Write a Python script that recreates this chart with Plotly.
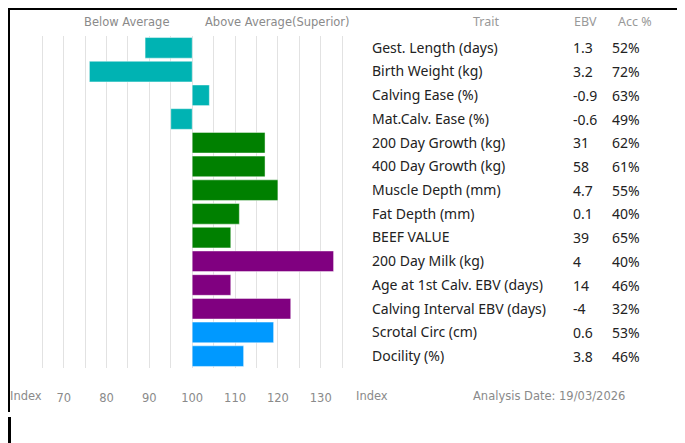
import plotly.graph_objects as go

traits = ["Gest. Length (days)", "Birth Weight (kg)", "Calving Ease (%)", "Mat.Calv. Ease (%)",
          "200 Day Growth (kg)", "400 Day Growth (kg)", "Muscle Depth (mm)", "Fat Depth (mm)",
          "BEEF VALUE", "200 Day Milk (kg)", "Age at 1st Calv. EBV (days)",
          "Calving Interval EBV (days)", "Scrotal Circ (cm)", "Docility (%)"]
index_values = [89, 76, 104, 95, 117, 117, 120, 111, 109, 133, 109, 123, 119, 112]
ebv = ["1.3", "3.2", "-0.9", "-0.6", "31", "58", "4.7", "0.1", "39", "4", "14", "-4", "0.6", "3.8"]
acc = ["52%", "72%", "63%", "49%", "62%", "61%", "55%", "40%", "65%", "40%", "46%", "32%", "53%", "46%"]
groups = ["calving"] * 4 + ["growth"] * 5 + ["maternal"] * 3 + ["other"] * 2
group_colors = {"calving": "#00b3b3", "growth": "#008000", "maternal": "#800080", "other": "#0099ff"}
grid_vals = list(range(60, 141, 5))
tick_labels = [str(v) if (70 <= v <= 130 and v % 10 == 0) else "" for v in grid_vals]
analysis_date = "19/03/2026"

W, H = 685, 443
OFF = 8  # page body margin
L, R, T, B = 20 - OFF, 364 - OFF, 36 - OFF, 368 - OFF
PW, PH = R - L, B - T
def px(x):
    return (x - OFF - L) / PW
def py(y):
    return (B - (y - OFF)) / PH

fig = go.Figure()
fig.add_trace(go.Bar(
    y=traits,
    x=[v - 100 for v in index_values],
    base=100,
    orientation="h",
    marker=dict(color=[group_colors[g] for g in groups],
                line=dict(color="rgba(255,255,255,0.45)", width=1)),
    showlegend=False,
    hoverinfo="skip",
))

gray = "#8a8a8a"
ann = []
row_font = dict(family="Noto Sans", size=14, color="#222")
for t, e, a in zip(traits, ebv, acc):
    ann.append(dict(x=px(571), y=t, xref="paper", yref="y", text=e, showarrow=False,
                    xanchor="left", font=row_font))
    ann.append(dict(x=px(610), y=t, xref="paper", yref="y", text=a, showarrow=False,
                    xanchor="left", font=row_font))

hdr_font = dict(family="DejaVu Sans", size=11.5, color=gray)
hdr2_font = dict(family="Noto Sans", size=12.5, color="#999")
for x, txt, f in [(126, "Below Average", hdr_font), (277, "Above Average(Superior)", hdr_font),
                  (486, "Trait", hdr2_font), (585, "EBV", hdr2_font), (635, "Acc %", hdr2_font)]:
    ann.append(dict(x=px(x), y=py(22), xref="paper", yref="paper", text=txt, showarrow=False,
                    xanchor="center", yanchor="middle", font=f))
for x, txt in [(OFF, "Index"), (354, "Index"), (471, "Analysis Date: " + analysis_date)]:
    ann.append(dict(x=px(x), y=py(396), xref="paper", yref="paper", text=txt, showarrow=False,
                    xanchor="left", yanchor="middle", font=hdr_font))

shapes = [
    dict(type="line", xref="paper", yref="paper", x0=px(OFF), x1=px(683), y0=py(OFF + 0.8), y1=py(OFF + 0.8),
         line=dict(color="black", width=2.5)),
    dict(type="line", xref="paper", yref="paper", x0=px(OFF + 1), x1=px(OFF + 1), y0=py(OFF), y1=py(412),
         line=dict(color="black", width=2)),
    dict(type="line", xref="paper", yref="paper", x0=px(OFF + 1.5), x1=px(OFF + 1.5), y0=py(417), y1=py(H + OFF),
         line=dict(color="black", width=3)),
]

fig.update_layout(
    width=W, height=H,
    margin=dict(l=L, r=W - R, t=T, b=H - B, pad=0),
    paper_bgcolor="white", plot_bgcolor="white",
    bargap=0.13,
    annotations=ann,
    shapes=shapes,
    xaxis=dict(range=[59.8, 140.1], tickmode="array", tickvals=grid_vals, ticktext=tick_labels,
               showgrid=True, gridcolor="#e2e2e2", gridwidth=1, zeroline=False, showline=False,
               ticks="", ticklabelstandoff=21,
               tickfont=dict(family="DejaVu Sans", size=11.5, color=gray), fixedrange=True),
    yaxis=dict(categoryorder="array", categoryarray=traits, autorange="reversed",
               side="right", showgrid=False, zeroline=False, showline=False, ticks="",
               ticklabelstandoff=7,
               tickfont=row_font, fixedrange=True),
    font=dict(family="Noto Sans"),
)

fig.write_html("out.html")
